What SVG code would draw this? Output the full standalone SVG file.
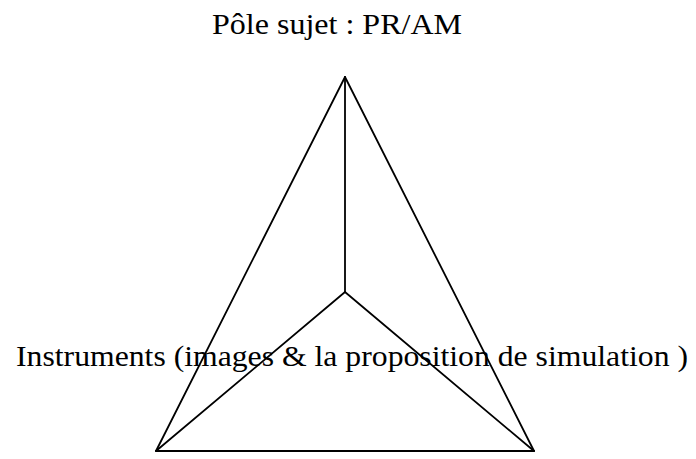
<svg xmlns="http://www.w3.org/2000/svg" width="696" height="459" viewBox="0 0 696 459">
<style>
.t{font-family:"Liberation Serif","Times New Roman",serif;font-size:30px;fill:#000}
.l{stroke:#000;stroke-width:1.8;fill:none;stroke-linecap:round;stroke-linejoin:miter}
</style>
<rect width="696" height="459" fill="#fff"/>
<g id="connectors">
<line class="l" x1="345" y1="77" x2="156" y2="451"/>
<line class="l" x1="345" y1="77" x2="534" y2="451"/>
<line class="l" x1="156" y1="451" x2="534" y2="451"/>
<line class="l" x1="345" y1="77" x2="345" y2="292"/>
<line class="l" x1="345" y1="292" x2="156" y2="451"/>
<line class="l" x1="345" y1="292" x2="534" y2="451"/>
</g>
<g id="pole-sujet">
<text class="t" x="212" y="34" textLength="250" lengthAdjust="spacingAndGlyphs">Pôle sujet : PR/AM</text>
</g>
<g id="instruments">
<text class="t" x="16" y="366" textLength="672" lengthAdjust="spacingAndGlyphs">Instruments (images &amp; la proposition de simulation )</text>
</g>
</svg>
